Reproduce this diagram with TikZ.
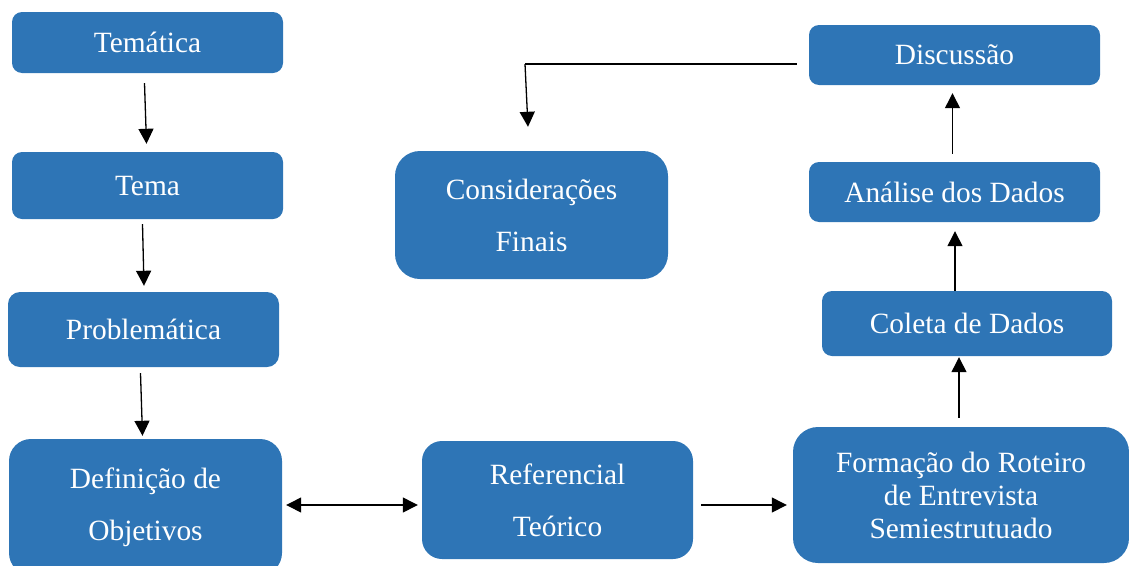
\documentclass[tikz,border=0pt]{standalone}
\usepackage{fontspec}
\setmainfont{Liberation Serif}
\usetikzlibrary{arrows.meta}
\definecolor{boxblue}{RGB}{46,117,182}
\tikzset{
  box/.style={fill=boxblue, text=white, inner sep=0pt, align=center,
    font=\fontsize{29.4}{34}\selectfont, rounded corners=#1},
  box/.default=10pt,
  single/.style={text depth=0pt},
  wide/.style={font=\fontsize{29.4}{52}\selectfont},
  arr/.style={line width=1.3pt, -{Triangle[length=15pt,width=15pt]}},
  dbl/.style={line width=1.3pt, {Triangle[length=15pt,width=15pt]}-{Triangle[length=15pt,width=15pt]}},
  plain/.style={line width=1.3pt}
}
\begin{document}
\begin{tikzpicture}[x=1pt,y=-1pt]
\useasboundingbox (0,0) rectangle (1129,565);
\clip (0,0) rectangle (1129,565);
% nodes
\node[box, single, minimum width=271pt, minimum height=61pt] (tematica) at (147.5,42.5) {Temática};
\node[box, single, minimum width=271pt, minimum height=67pt] (tema) at (147.5,185.5) {Tema};
\node[box=12pt, single, minimum width=271pt, minimum height=75pt] (problematica) at (143.5,329.5) {Problemática};
\node[box=22pt, wide, minimum width=273pt, minimum height=136pt] (definicao) at (145.5,507) {Definição de\\Objetivos};
\node[box=20pt, wide, minimum width=271pt, minimum height=118pt] (referencial) at (557.5,500) {Referencial\\Teórico};
\node[box=25pt, font=\fontsize{29.4}{33}\selectfont, minimum width=336pt, minimum height=136pt] (formacao) at (961,495) {Formação do Roteiro\\de Entrevista\\Semiestrutuado};
\node[box, single, minimum width=290pt, minimum height=65pt] (coleta) at (967,323.5) {Coleta de Dados};
\node[box, single, minimum width=291pt, minimum height=60pt] (analise) at (954.5,192) {Análise dos Dados};
\node[box, single, minimum width=291pt, minimum height=60pt] (discussao) at (954.5,55) {Discussão};
\node[box=25pt, wide, minimum width=273pt, minimum height=128pt] (consideracoes) at (531.5,215) {Considerações\\Finais};
% connectors
\draw[arr] ([xshift=-3pt,yshift=-10pt]tematica.south) -- ([xshift=-1pt,yshift=8pt]tema.north);
\draw[arr] ([xshift=-5pt,yshift=-5pt]tema.south) -- ([xshift=0.5pt,yshift=6pt]problematica.north);
\draw[arr] ([xshift=-3pt,yshift=-6pt]problematica.south) -- ([xshift=-3pt,yshift=3pt]definicao.north);
\draw[dbl] ([xshift=4pt,yshift=2pt]definicao.east) -- ([xshift=-4pt,yshift=-5pt]referencial.west);
\draw[arr] ([xshift=8pt,yshift=-5pt]referencial.east) -- ([xshift=-6pt,yshift=-10pt]formacao.west);
\draw[arr] ([xshift=-2pt,yshift=9pt]formacao.north) -- ([xshift=-8pt,yshift=-1pt]coleta.south);
\draw[arr] ([xshift=-12pt]coleta.north) -- ([xshift=0.5pt,yshift=-9pt]analise.south);
\draw[arr] ([xshift=-2pt,yshift=8pt]analise.north) -- ([xshift=-2pt,yshift=-8pt]discussao.south);
\coordinate (bend) at (525,64);
\draw[plain] ([xshift=-12pt,yshift=-9pt]discussao.west) -- (bend);
\draw[arr] (bend) -- ([xshift=-3.5pt,yshift=24pt]consideracoes.north);
\end{tikzpicture}
\end{document}
